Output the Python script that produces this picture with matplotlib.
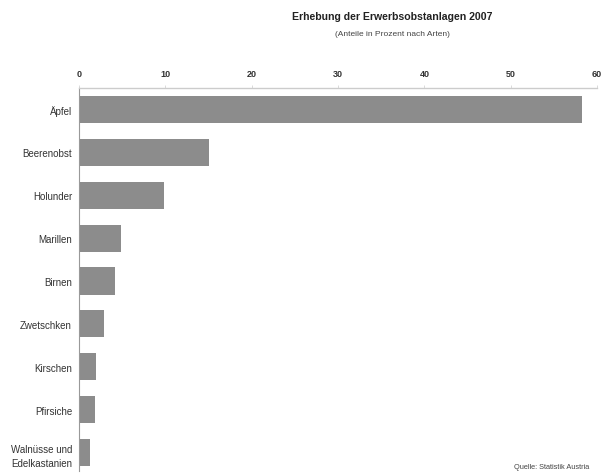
import matplotlib
matplotlib.use("Agg")
import matplotlib.pyplot as plt

categories = ["Äpfel", "Beerenobst", "Holunder", "Marillen", "Birnen",
              "Zwetschken", "Kirschen", "Pfirsiche", "Walnüsse und\nEdelkastanien"]
values = [58.3, 15.0, 9.8, 4.9, 4.2, 2.9, 2.0, 1.8, 1.3]
xticks = [0, 10, 20, 30, 40, 50, 60]

plt.rcParams['font.family'] = ['Liberation Sans Narrow', 'Liberation Sans', 'DejaVu Sans']

W, H = 608, 477
fig = plt.figure(figsize=(W / 100, H / 100), dpi=100)
ax = fig.add_axes([79 / W, 1 - 472 / H, (597 - 79) / W, (472 - 89) / H])

ypos = list(range(len(categories)))
ax.barh(ypos, values, height=0.63, color="#8c8c8c", edgecolor="none")
ax.set_xlim(0, 60)
ax.set_ylim(8.43, -0.5)
ax.xaxis.tick_top()
ax.set_xticks(xticks)
ax.set_xticklabels([str(t) for t in xticks], fontsize=6.5, fontweight="bold", color="#333333")
ax.tick_params(axis="x", length=2, width=0.5, color="#cccccc", pad=5)
ax.set_yticks(ypos)
ax.set_yticklabels(categories, fontsize=7, color="#333333", linespacing=1.6)
ax.tick_params(axis="y", length=0, pad=5)
for lab in ax.get_yticklabels():
    lab.set_horizontalalignment("right")

ax.spines["right"].set_visible(False)
ax.spines["bottom"].set_visible(False)
ax.spines["top"].set_color("#cccccc")
ax.spines["top"].set_linewidth(1.0)
ax.spines["left"].set_color("#999999")
ax.spines["left"].set_linewidth(0.8)

fig.text(392 / W, 1 - 17 / H, "Erhebung der Erwerbsobstanlagen 2007", ha="center", va="center",
         fontsize=7.6, fontweight="bold", color="#222222")
fig.text(392 / W, 1 - 34 / H, "(Anteile in Prozent nach Arten)", ha="center", va="center",
         fontsize=6, color="#444444")
fig.text(589 / W, 1 - 468 / H, "Quelle: Statistik Austria", ha="right", va="center",
         fontsize=5.3, color="#444444")

fig.savefig("out.png", dpi=100)
